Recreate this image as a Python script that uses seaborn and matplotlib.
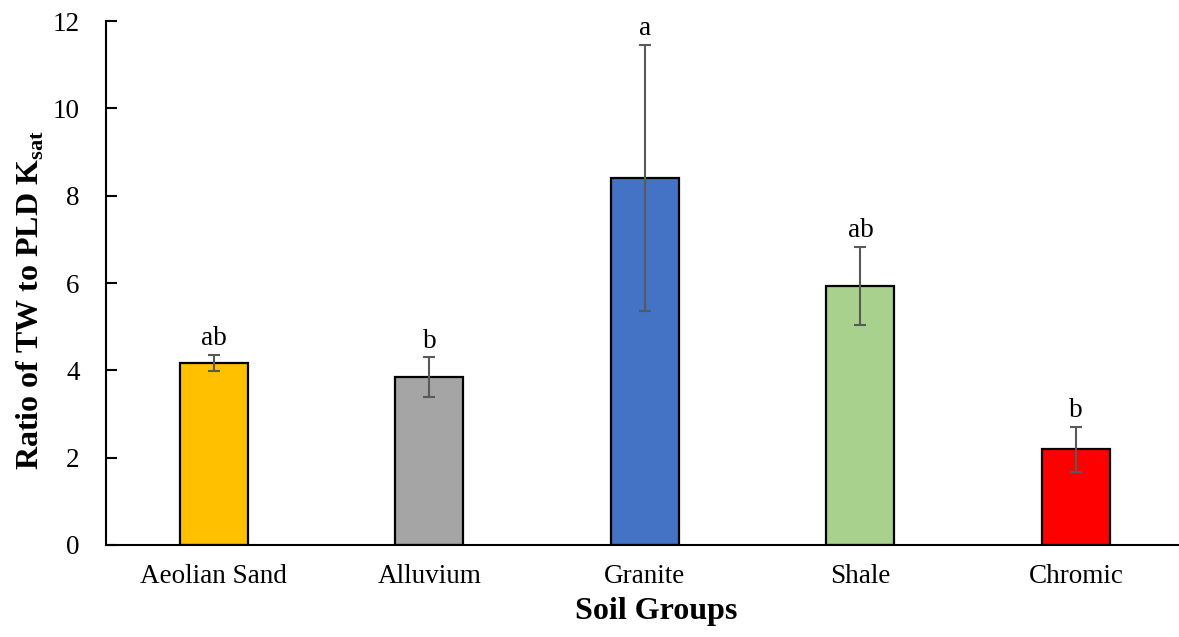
import matplotlib
matplotlib.use("Agg")
import matplotlib.pyplot as plt
import seaborn as sns
import pandas as pd

categories = ["Aeolian Sand", "Alluvium", "Granite", "Shale", "Chromic"]
means = [4.17, 3.85, 8.40, 5.93, 2.19]
errors = [0.18, 0.45, 3.05, 0.89, 0.51]
letters = ["ab", "b", "a", "ab", "b"]
colors = ["#FFC000", "#A5A5A5", "#4472C4", "#A9D18E", "#FF0000"]
yticks = [0, 2, 4, 6, 8, 10, 12]

sns.set_style("ticks")
plt.rcParams["font.family"] = ["Liberation Serif", "DejaVu Serif"]
plt.rcParams["mathtext.fontset"] = "custom"
plt.rcParams["mathtext.rm"] = "Liberation Serif:bold"
for k in ["text.color", "axes.labelcolor", "xtick.color", "ytick.color", "axes.edgecolor"]:
    plt.rcParams[k] = "black"

W, H = 1179, 637
fig = plt.figure(figsize=(W / 100, H / 100), dpi=100)
ax_left, ax_right, ax_top, ax_bottom = 106, 1206, 21, 545
ax = fig.add_axes([ax_left / W, 1 - ax_bottom / H, (ax_right - ax_left) / W, (ax_bottom - ax_top) / H])

df = pd.DataFrame({"group": categories, "value": means})
sns.barplot(data=df, x="group", y="value", hue="group", palette=colors, legend=False,
            width=0.315, edgecolor="black", linewidth=1.6, errorbar=None, ax=ax, saturation=1)

xs = list(range(len(categories)))
ax.errorbar(xs, means, yerr=errors, fmt="none", ecolor="#595959", elinewidth=1.5,
            capsize=4.3, capthick=1.5, zorder=5)

for x, m, e, t in zip(xs, means, errors, letters):
    ax.annotate(t, xy=(x, m + e), xytext=(0, 7), textcoords="offset points",
                ha="center", va="baseline", fontsize=19.5, color="black")

ax.set_ylim(0, 12)
ax.set_xlim(-0.5, (ax_right - 214) / 215.5)
ax.set_yticks(yticks)
ax.set_yticklabels([str(v) for v in yticks])
ax.tick_params(axis="y", direction="in", length=8, width=1.5, pad=19, labelsize=19.5, colors="black")
ax.tick_params(axis="x", length=0, pad=14, labelsize=19.5, colors="black")

for s in ["top", "right"]:
    ax.spines[s].set_visible(False)
for s in ["left", "bottom"]:
    ax.spines[s].set_linewidth(1.5)
    ax.spines[s].set_color("black")

ax.set_xlabel("Soil Groups", fontsize=23, fontweight="bold", color="black")
ax.set_ylabel(r"Ratio of TW to PLD K$_{\mathrm{sat}}$", fontsize=23, fontweight="bold", color="black")
axw = ax_right - ax_left
axh = ax_bottom - ax_top
ax.xaxis.set_label_coords((656 - ax_left) / axw, -(597 - ax_bottom) / axh)
ax.yaxis.set_label_coords((46 - ax_left) / axw, (545 - 300) / axh)

fig.savefig("out.png", dpi=100)
